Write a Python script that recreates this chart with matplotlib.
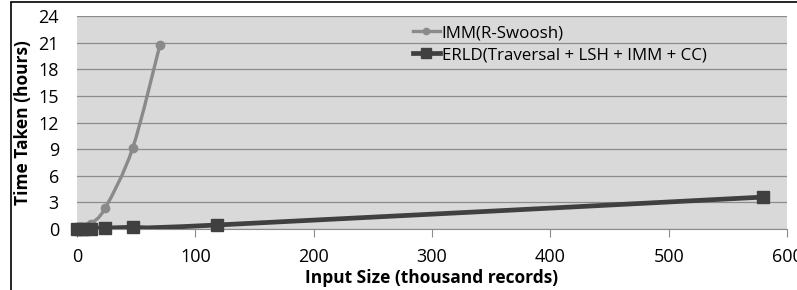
"""
Time taken vs input size: IMM(R-Swoosh) against ERLD pipeline.
"""
import matplotlib.pyplot as plt
import numpy as np
from matplotlib.path import Path
from matplotlib.patches import PathPatch, Rectangle
from matplotlib.lines import Line2D

IMM_X = [0, 3, 6, 12, 24, 47, 70]
IMM_Y = [0.0, 0.02, 0.1, 0.6, 2.4, 9.1, 20.7]
ERLD_X = [0, 3, 6, 12, 24, 47, 118, 580]
ERLD_Y = [0.0, 0.01, 0.02, 0.05, 0.1, 0.2, 0.45, 3.6]
LABELS = ["IMM(R-Swoosh)", "ERLD(Traversal + LSH + IMM + CC)"]
X_TICKS = [0, 100, 200, 300, 400, 500, 600]
Y_TICKS = [0, 3, 6, 9, 12, 15, 18, 21, 24]

COLORS = {
    "imm": "#8a8a8a",
    "erld": "#404040",
    "bg": "#d9d9d9",
    "grid": "#8c8c8c",
}
plt.rcParams["font.family"] = ["Open Sans", "DejaVu Sans"]


def smooth_path(xs, ys):
    # excel-style smoothed line: catmull-rom as cubic beziers
    pts = np.column_stack([xs, ys]).astype(float)
    verts = [pts[0]]
    codes = [Path.MOVETO]
    n = len(pts)
    for i in range(n - 1):
        p0 = pts[max(i - 1, 0)]
        p1 = pts[i]
        p2 = pts[i + 1]
        p3 = pts[min(i + 2, n - 1)]
        verts += [p1 + (p2 - p0) / 6, p2 - (p3 - p1) / 6, p2]
        codes += [Path.CURVE4] * 3
    return Path(verts, codes)


fig = plt.figure(figsize=(7.97, 2.90), dpi=100)
ax = fig.add_axes([0.0966, 0.2103, 0.8909, 0.7345])
ax.set_facecolor(COLORS["bg"])

series = [
    (IMM_X, IMM_Y, COLORS["imm"], "o", 6, 2.4),
    (ERLD_X, ERLD_Y, COLORS["erld"], "s", 9, 3.4),
]
handles = []
for (xs, ys, col, mk, ms, lw), lab in zip(series, LABELS):
    ax.add_patch(PathPatch(smooth_path(xs, ys), facecolor="none",
                           edgecolor=col, linewidth=lw, zorder=5))
    ax.plot(xs, ys, linestyle="none", marker=mk, markersize=ms,
            color=col, zorder=6, clip_on=False)
    handles.append(Line2D([], [], color=col, linewidth=lw, marker=mk,
                          markersize=ms * 0.75, label=lab))

ax.set_xlim(0, 600)
ax.set_ylim(0, 24)
ax.set_xticks(X_TICKS)
ax.set_yticks(Y_TICKS)
ax.tick_params(axis="both", labelsize=13, colors="#000000")
ax.tick_params(axis="x", length=6, color=COLORS["grid"], pad=8)
ax.tick_params(axis="y", length=0, pad=13)
ax.grid(visible=True, axis="y", color=COLORS["grid"], linewidth=0.9)
ax.set_axisbelow(True)
for s in ["top", "right", "left"]:
    ax.spines[s].set_visible(False)
ax.spines["bottom"].set_color(COLORS["grid"])

ax.set_xlabel("Input Size (thousand records)", fontsize=12.5, fontweight="bold")
ax.set_ylabel("Time Taken (hours)", fontsize=12.5, fontweight="bold")
ax.xaxis.set_label_coords(0.5, -0.19)
ax.yaxis.set_label_coords(-0.064, 0.5)

ax.legend(handles=handles, loc="upper left", bbox_to_anchor=(0.46, 1.0),
          frameon=False, fontsize=12.2, handlelength=1.6, handletextpad=0.1,
          labelspacing=0.35, borderaxespad=0.15)

# outer chart frame
fig.patches.append(Rectangle((11 / 797, -0.1), 1.2, 1.1 - 2 / 290,
                             transform=fig.transFigure, fill=False,
                             edgecolor="black", linewidth=1.2))

plt.savefig("out.png", dpi=100)
